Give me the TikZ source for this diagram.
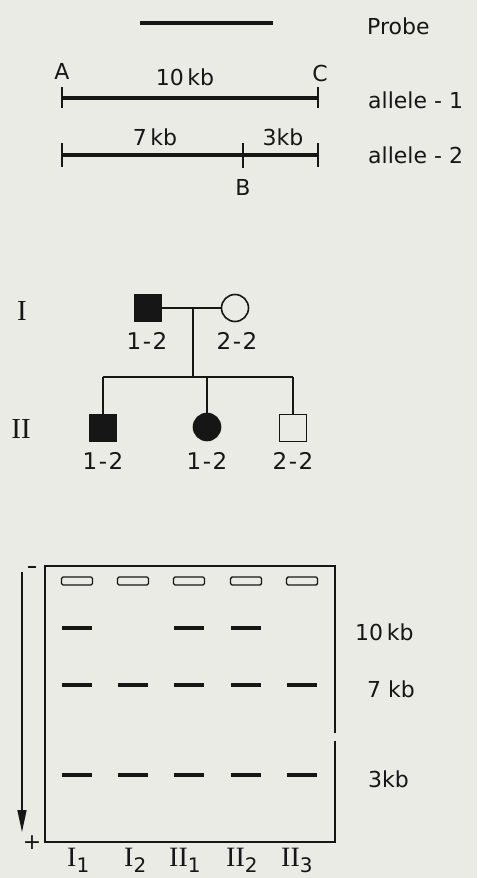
\documentclass[tikz,border=0pt]{standalone}
\usepackage{fontspec}
\newfontfamily\dv{DejaVu Sans}
\newfontfamily\ls{Liberation Serif}
\usetikzlibrary{arrows.meta}
\definecolor{bg}{RGB}{235,235,229}
\definecolor{ink}{RGB}{22,22,22}
\newcommand{\lanesub}[2]{#1\raisebox{-6pt}{\dv\fontsize{20}{20}\selectfont #2}}
\newcommand{\gt}[2]{#1\kern1.5pt-\kern1.5pt#2}
\begin{document}
\begin{tikzpicture}[x=1pt,y=-1pt,
  sans/.style={font=\dv\fontsize{22}{26}\selectfont, inner sep=0pt, text=ink},
  geno/.style={font=\dv\fontsize{23}{26}\selectfont, inner sep=0pt, text=ink},
  roman/.style={font=\ls\fontsize{29}{30}\selectfont, inner sep=0pt, text=ink},
  lane/.style={font=\ls\fontsize{28}{30}\selectfont, inner sep=0pt, text=ink},
  fragline/.style={line width=3.8pt, draw=ink},
  tickline/.style={line width=2pt, draw=ink},
  pline/.style={line width=1.6pt, draw=ink},
  sq/.style={rectangle, draw=ink, line width=1.6pt, minimum size=27pt, inner sep=0pt},
  ci/.style={circle, draw=ink, line width=1.6pt, minimum size=27pt, inner sep=0pt},
  band/.style={line width=3.6pt, draw=ink},
  well/.style={rectangle, draw=ink, line width=1.4pt, rounded corners=1.5pt, minimum width=31pt, minimum height=8pt, inner sep=0pt}]
\useasboundingbox (0,0) rectangle (477,878);
\fill[bg] (0,0) rectangle (477,878);

% ---- restriction map
\coordinate (p1) at (140,23); \coordinate (p2) at (273,23);
\draw[fragline] (p1) -- (p2);
\node[sans, anchor=base west] (probe) at (367,34) {Probe};

\coordinate (A) at (62,98); \coordinate (C) at (318,98);
\draw[fragline] (A) -- (C);
\draw[tickline] (62,87) -- (62,108);
\draw[tickline] (318,87) -- (318,108);
\node[sans, anchor=base] (la) at (62,79) {A};
\node[sans, anchor=base] (lc) at (320,81) {C};
\node[sans, anchor=base] (l10) at (185,85) {10\,kb};
\node[sans, anchor=base west] (al1) at (368,108) {allele - 1};

\coordinate (A2) at (62,155); \coordinate (C2) at (318,155); \coordinate (B) at (243,155);
\draw[fragline] (A2) -- (C2);
\draw[tickline] (62,143) -- (62,167);
\draw[tickline] (318,143) -- (318,167);
\draw[tickline] (243,143) -- (243,168);
\node[sans, anchor=base] (l7) at (155,145) {7\,kb};
\node[sans, anchor=base] (l3) at (283,145) {3kb};
\node[sans, anchor=base] (lb) at (243,195) {B};
\node[sans, anchor=base west] (al2) at (368,163) {allele - 2};

% ---- pedigree
\node[roman, anchor=base] (gI) at (22,320) {I};
\node[roman, anchor=base] (gII) at (21,438) {II};

\node[sq, fill=ink] (f) at (148,308) {};
\node[ci] (m) at (235,308) {};
\coordinate (mid) at (193,308);
\coordinate (sib) at (193,377);
\draw[pline] (f.east) -- (m.west);
\draw[pline] (mid) -- (sib);
\node[geno, anchor=base] (gf) at (147,349) {\gt{1}{2}};
\node[geno, anchor=base] (gm) at (237,349) {\gt{2}{2}};

\node[sq, fill=ink] (c1) at (103,428) {};
\node[ci, fill=ink] (c2) at (207,427) {};
\node[sq] (c3) at (293,428) {};
\coordinate (s1) at (103,377); \coordinate (s2) at (207,377); \coordinate (s3) at (293,377);
\draw[pline] (s1) -- (s3);
\draw[pline] (s1) -- (c1.north);
\draw[pline] (s2) -- (c2.north);
\draw[pline] (s3) -- (c3.north);
\node[geno, anchor=base] (g1) at (103,469) {\gt{1}{2}};
\node[geno, anchor=base] (g2) at (207,469) {\gt{1}{2}};
\node[geno, anchor=base] (g3) at (293,469) {\gt{2}{2}};

% ---- gel
\draw[line width=1.6pt, draw=ink] (335,733) -- (335,566) -- (45,566) -- (45,842) -- (335,842) -- (335,741);
\foreach \x [count=\i] in {77,133,189,246,302} {
  \node[well] (w\i) at (\x,581) {};
  \draw[band] (\x-15,685) -- (\x+15,685);
  \draw[band] (\x-15,775) -- (\x+15,775);
}
\foreach \x in {77,189,246} {
  \draw[band] (\x-15,628) -- (\x+15,628);
}
\node[sans, anchor=base west] (k10) at (355,640) {10\,kb};
\node[sans, anchor=base west] (k7) at (367,697) {7 kb};
\node[sans, anchor=base west] (k3) at (368,787) {3kb};

\coordinate (ar1) at (22,572); \coordinate (ar2) at (22,832);
\draw[line width=1.5pt, draw=ink, -{Triangle[length=22pt,width=9pt]}] (ar1) -- (ar2);
\coordinate (mc) at (32,567);
\draw[line width=1.5pt, draw=ink] ([xshift=-4pt]mc) -- ([xshift=4pt]mc);
\node[sans, anchor=center] (plus) at (32,843) {+};

\node[lane, anchor=base west] (L1) at (67,866) {\lanesub{I}{1}};
\node[lane, anchor=base west] (L2) at (124,866) {\lanesub{I}{2}};
\node[lane, anchor=base west] (L3) at (169,866) {\lanesub{II}{1}};
\node[lane, anchor=base west] (L4) at (226,866) {\lanesub{II}{2}};
\node[lane, anchor=base west] (L5) at (281,866) {\lanesub{II}{3}};
\end{tikzpicture}
\end{document}
